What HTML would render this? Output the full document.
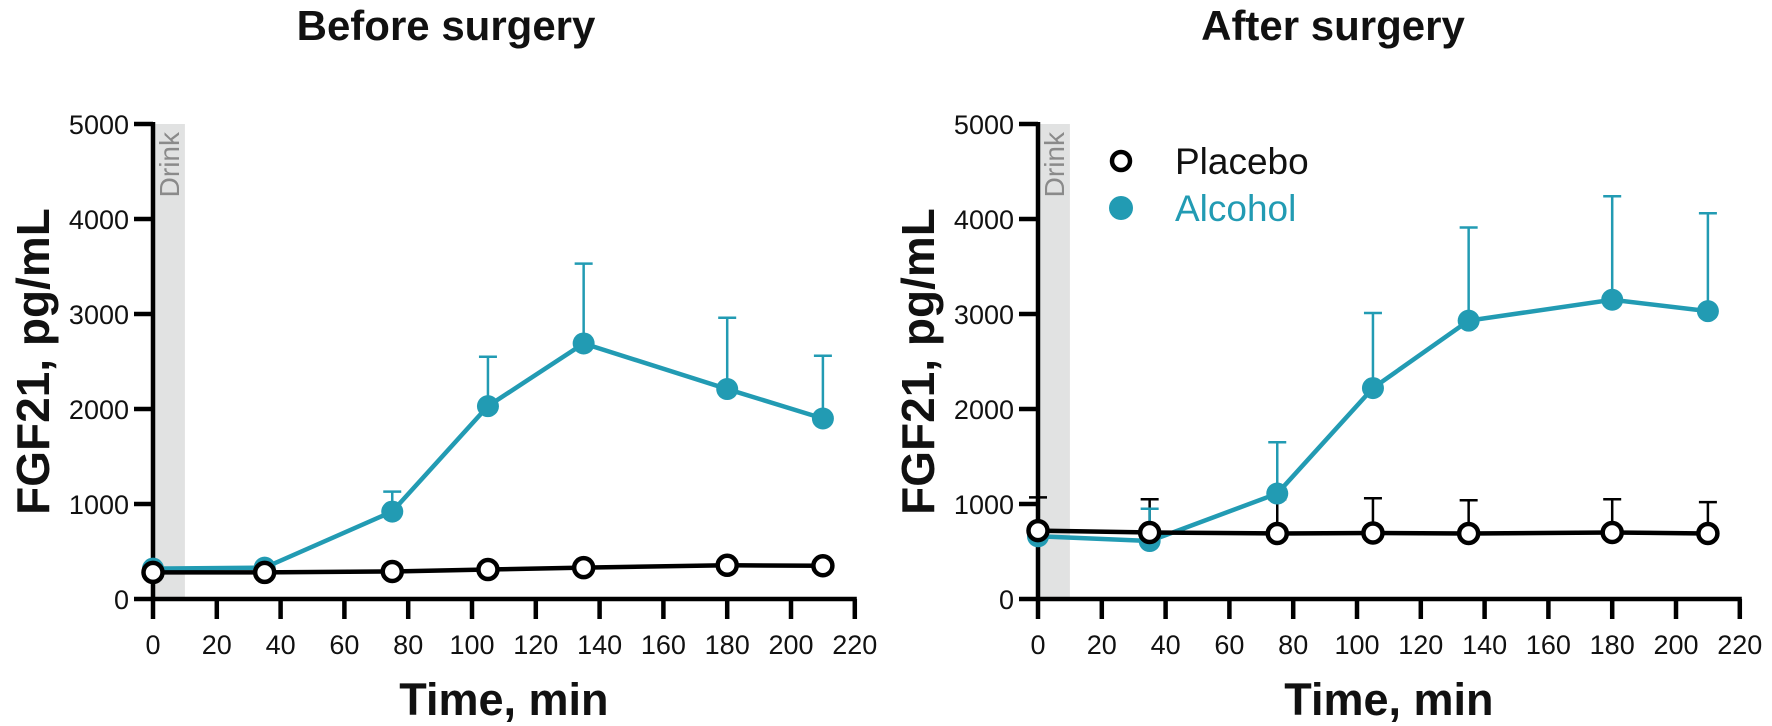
<!DOCTYPE html>
<html><head><meta charset="utf-8"><style>
body{margin:0;background:#fff}
svg{display:block;font-family:"Liberation Sans",Arial,sans-serif}
</style></head><body>
<svg id="chart" width="1772" height="726" viewBox="0 0 1772 726"></svg>
<script>
const times=[0,35,75,105,135,180,210];
const beforePlacebo=[280,280,290,310,330,355,350];
const beforePlaceboErr=[0,0,0,0,0,0,0];
const beforeAlcohol=[320,330,920,2030,2690,2210,1900];
const beforeAlcoholErr=[0,0,210,520,840,750,660];
const afterPlacebo=[720,700,690,695,690,700,690];
const afterPlaceboErr=[350,350,360,365,350,350,330];
const afterAlcohol=[660,610,1110,2220,2930,3150,3030];
const afterAlcoholErr=[0,340,540,790,980,1090,1030];
const xTicks=[0,20,40,60,80,100,120,140,160,180,200,220];
const yTicks=[0,1000,2000,3000,4000,5000];
const TEAL="#229bb3";
const NS="http://www.w3.org/2000/svg";
const svg=document.getElementById('chart');
function mk(tag,attrs,parent,text){const e=document.createElementNS(NS,tag);for(const k in attrs)e.setAttribute(k,attrs[k]);if(text!==undefined)e.textContent=text;(parent||svg).appendChild(e);return e;}
function panel(x0,title,titleX,pl,plErr,al,alErr,legend,name){
  const g=mk('g',{});
  
  
  const y0=599,pxY=0.095,pxX=3.19;
  const X=t=>x0+t*pxX, Y=v=>y0-v*pxY;
  const band=mk('rect',{x:X(0),y:Y(5000),width:X(10)-X(0),height:Y(0)-Y(5000),fill:'#e1e2e2'},g);
  
  const dt=mk('text',{x:0,y:0,transform:`translate(${X(5)+10},${Y(5000)+8}) rotate(-90)`,'text-anchor':'end','font-size':28,fill:'#8a8a8a'},g,'Drink');
  
  const tt=mk('text',{x:titleX,y:40,'text-anchor':'middle','font-size':42,'font-weight':'bold',fill:'#111'},g,title);
  
  const yt=mk('text',{x:0,y:0,transform:`translate(${x0-104},${Y(2500)}) rotate(-90)`,'text-anchor':'middle','font-size':46,'font-weight':'bold',fill:'#111'},g,'FGF21, pg/mL');
  
  const xt=mk('text',{x:X(110),y:715,'text-anchor':'middle','font-size':45,'font-weight':'bold',fill:'#111'},g,'Time, min');
  
  mk('line',{x1:x0,y1:Y(5000)-2,x2:x0,y2:y0+2,stroke:'#000','stroke-width':4.5},g);
  mk('line',{x1:x0-2,y1:y0,x2:X(220)+2,y2:y0,stroke:'#000','stroke-width':4.5},g);
  yTicks.forEach(v=>{mk('line',{x1:x0-19,y1:Y(v),x2:x0,y2:Y(v),stroke:'#000','stroke-width':4.5},g);
    const l=mk('text',{x:x0-24,y:Y(v)+10,'text-anchor':'end','font-size':27,fill:'#111'},g,v);
    });
  xTicks.forEach(t=>{mk('line',{x1:X(t),y1:y0,x2:X(t),y2:y0+20,stroke:'#000','stroke-width':4.5},g);
    const l=mk('text',{x:X(t),y:y0+55,'text-anchor':'middle','font-size':27,fill:'#111'},g,t);
    });
  function errs(vals,e,color){vals.forEach((v,i)=>{if(!e[i])return;
    mk('line',{x1:X(times[i]),y1:Y(v),x2:X(times[i]),y2:Y(v+e[i]),stroke:color,'stroke-width':2.5},g);
    mk('line',{x1:X(times[i])-9,y1:Y(v+e[i]),x2:X(times[i])+9,y2:Y(v+e[i]),stroke:color,'stroke-width':2.5},g);});}
  errs(pl,plErr,'#000');errs(al,alErr,TEAL);
  const alLine=mk('polyline',{points:al.map((v,i)=>X(times[i])+','+Y(v)).join(' '),fill:'none',stroke:TEAL,'stroke-width':4.5},g);
  
  al.forEach((v,i)=>{const c=mk('circle',{cx:X(times[i]),cy:Y(v),r:11,fill:TEAL},g);
    });
  const plLine=mk('polyline',{points:pl.map((v,i)=>X(times[i])+','+Y(v)).join(' '),fill:'none',stroke:'#000','stroke-width':4.5},g);
  
  pl.forEach((v,i)=>{const c=mk('circle',{cx:X(times[i]),cy:Y(v),r:9.5,fill:'#fff',stroke:'#000','stroke-width':4.5},g);
    });
  if(legend){
    const l1=mk('g',{},g);
    mk('circle',{cx:1121,cy:161,r:9,fill:'#fff',stroke:'#000','stroke-width':4.5},l1);
    mk('text',{x:1175,y:174,'font-size':37,fill:'#111'},l1,'Placebo');
    const l2=mk('g',{},g);
    mk('circle',{cx:1121,cy:208,r:12,fill:TEAL},l2);
    mk('text',{x:1175,y:221,'font-size':37,fill:TEAL},l2,'Alcohol');
  }
}
panel(153,'Before surgery',446,beforePlacebo,beforePlaceboErr,beforeAlcohol,beforeAlcoholErr,false,'before-surgery-panel');
panel(1038,'After surgery',1333,afterPlacebo,afterPlaceboErr,afterAlcohol,afterAlcoholErr,true,'after-surgery-panel');
</script>
</body></html>
